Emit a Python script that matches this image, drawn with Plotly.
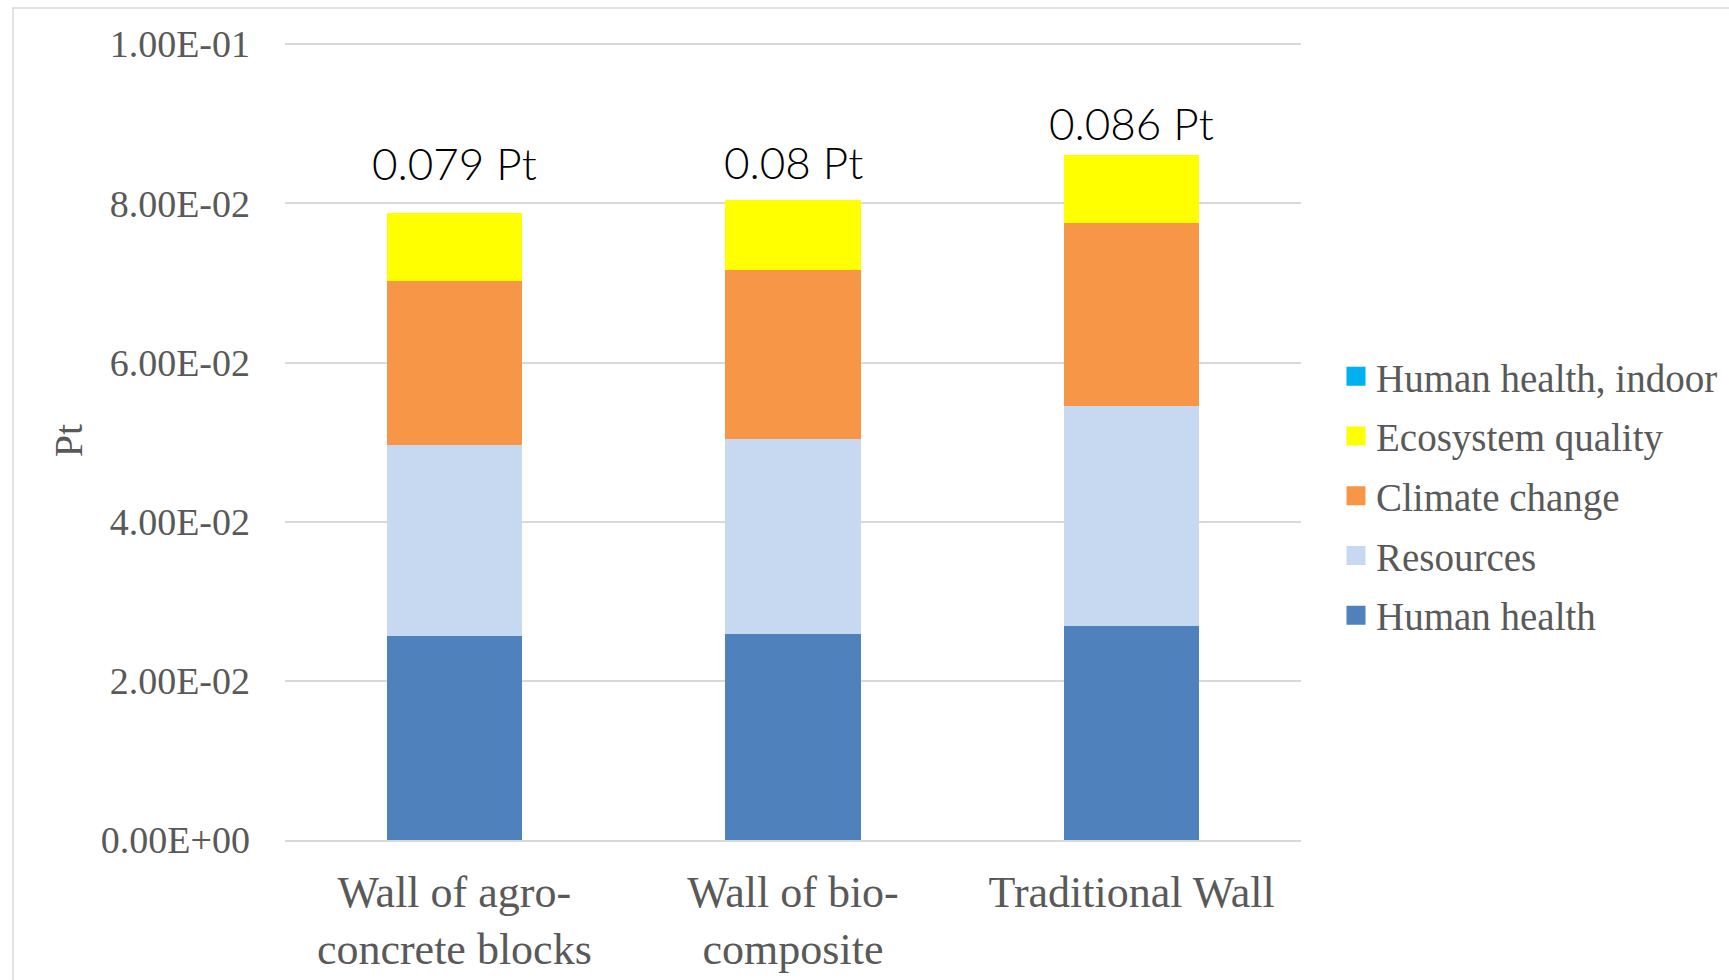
import plotly.graph_objects as go

categories = ["Wall of agro-<br>concrete blocks", "Wall of bio-<br>composite", "Traditional Wall"]
human_health = [0.0256, 0.0259, 0.0269]
resources = [0.0240, 0.0245, 0.0276]
climate_change = [0.0207, 0.0212, 0.0230]
ecosystem_quality = [0.0085, 0.0088, 0.0086]
human_health_indoor = [0.0, 0.0, 0.0]
total_labels = ["0.079 Pt", "0.08 Pt", "0.086 Pt"]
label_shift = [50, 38, 32]
tick_values = [0, 0.02, 0.04, 0.06, 0.08, 0.10]
tick_labels = ["0.00E+00", "2.00E-02", "4.00E-02", "6.00E-02", "8.00E-02", "1.00E-01"]

series = [
    ("Human health", human_health, "#4F81BD"),
    ("Resources", resources, "#C6D9F1"),
    ("Climate change", climate_change, "#F79646"),
    ("Ecosystem quality", ecosystem_quality, "#FFFF00"),
    ("Human health, indoor", human_health_indoor, "#00B0F0"),
]

SERIF = "Liberation Serif"
GRAY = "#595959"
GRID = "#d9d9d9"

fig = go.Figure()
for name, vals, col in series:
    fig.add_trace(go.Bar(x=categories, y=vals, name=name, marker=dict(color=col, line=dict(width=0)),
                         showlegend=False))
# legend entries, listed top to bottom as in the reference
for name, vals, col in reversed(series):
    fig.add_trace(go.Scatter(x=[None], y=[None], mode="markers", name=name, legendgroup=name,
                             marker=dict(symbol="square", size=16, color=col,
                                         line=dict(color=col, width=3))))

totals = [sum(v) for v in zip(human_health, resources, climate_change, ecosystem_quality, human_health_indoor)]
for c, t, lab, s in zip(categories, totals, total_labels, label_shift):
    fig.add_annotation(x=c, y=t, text=lab, showarrow=False, yanchor="middle", yshift=s,
                       font=dict(family="Lato", size=44, color="#000000", weight=300))

W, H = 1729, 980
ymax = 0.1004  # keeps the 1.00E-01 gridline just inside the plot so it is drawn
ml, mr, mb = 285, 428, 140
ph = round(796 * ymax / 0.1)
mt = H - mb - ph
pw = W - ml - mr

def px(x):
    return (x - ml) / pw

def py(y):
    return (H - mb - y) / ph

fig.add_shape(type="path", xref="paper", yref="paper",
              path=f"M {px(13)} {py(H)} L {px(13)} {py(8)} L {px(W)} {py(8)}",
              line=dict(color=GRID, width=1.5))

fig.update_layout(
    width=W, height=H,
    margin=dict(l=ml, r=mr, t=mt, b=mb, autoexpand=False),
    barmode="stack", bargap=0.6,
    plot_bgcolor="white", paper_bgcolor="white",
    font=dict(family=SERIF, color=GRAY),
    legend=dict(x=px(1336), xanchor="left", y=py(496), yanchor="middle",
                traceorder="grouped", tracegroupgap=6, itemsizing="trace",
                font=dict(family=SERIF, size=39, color=GRAY), bgcolor="rgba(0,0,0,0)"),
    xaxis=dict(showline=True, linecolor=GRID, linewidth=1.5, showgrid=False, automargin=False,
               tickfont=dict(family=SERIF, size=44, color=GRAY), ticklabelstandoff=12),
    yaxis=dict(range=[0, ymax], tickvals=tick_values, ticktext=tick_labels, automargin=False,
               showgrid=True, gridcolor=GRID, gridwidth=1.5, zeroline=False,
               tickfont=dict(family=SERIF, size=38, color=GRAY), ticklabelstandoff=34,
               title=dict(text="Pt", font=dict(family=SERIF, size=40, color=GRAY), standoff=5)),
)

fig.write_html("out.html", config={"displayModeBar": False},
               post_script="document.body.style.margin='0';")
